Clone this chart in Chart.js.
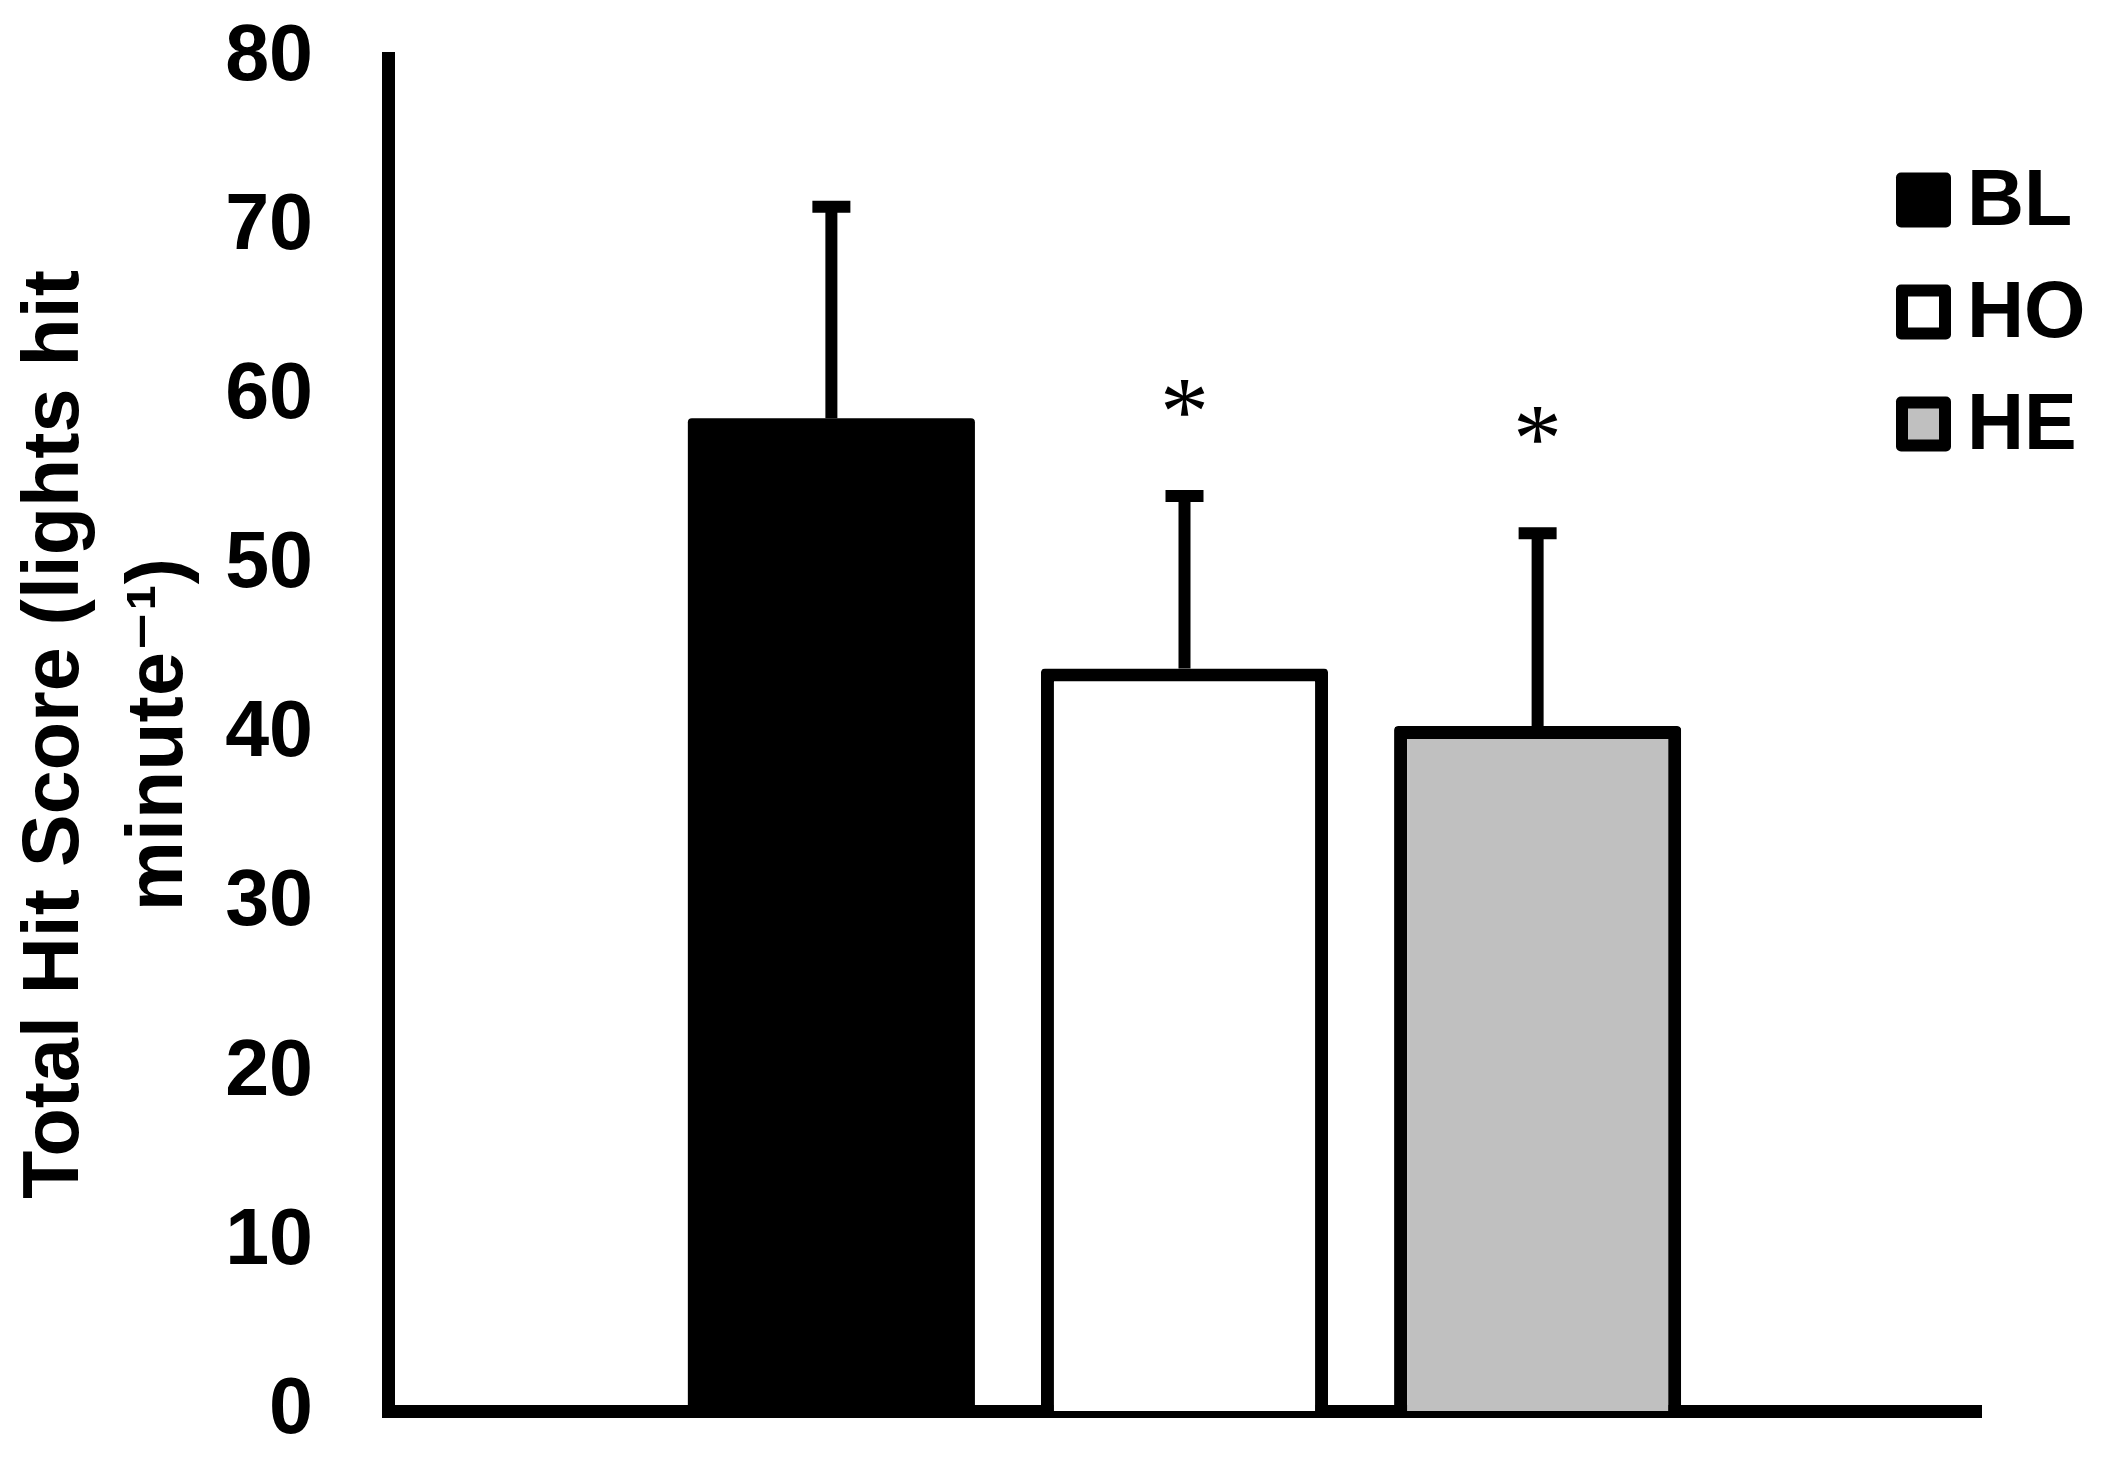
<!DOCTYPE html>
<html>
<head>
<meta charset="utf-8">
<script src="https://cdn.jsdelivr.net/npm/chart.js@4.4.0/dist/chart.umd.min.js"></script>
<style>
  html, body { margin: 0; padding: 0; background: #fff; }
  #wrap { width: 2115px; height: 1469px; }
</style>
</head>
<body>
<div id="wrap"><canvas id="chart" width="2115" height="1469"></canvas></div>
<script>
// data
const groups = ['BL', 'HO', 'HE'];
const means = [58.7, 43.9, 40.5];
const errors = [12.5, 10.2, 11.4];      // upper error bar length
const starAt = [null, 59.9, 58.3];       // where the * marks sit
const fills = ['#000000', '#ffffff', '#c0c0c0'];
const yMin = 0, yMax = 80, yStep = 10;
const yTitle = ['Total Hit Score (lights hit', 'minute\u207B\u00B9)'];

const FONT = "'Liberation Sans', Arial, 'DejaVu Sans', sans-serif";

// error bars (upward only, like the original) and the * marks
const errorBars = {
    id: 'errorBars',
    afterDatasetsDraw(chart) {
        const ctx = chart.ctx;
        const y = chart.scales.y;
        ctx.save();
        ctx.strokeStyle = '#000';
        ctx.lineWidth = 12;
        ctx.lineCap = 'butt';
        chart.data.datasets.forEach((ds, i) => {
            const bar = chart.getDatasetMeta(i).data[0];
            const top = y.getPixelForValue(ds.data[0] + errors[i]);
            ctx.beginPath();
            ctx.moveTo(bar.x, bar.y);
            ctx.lineTo(bar.x, top);
            ctx.moveTo(bar.x - 19, top);
            ctx.lineTo(bar.x + 19, top);
            ctx.stroke();

            if (starAt[i] !== null) {
                ctx.fillStyle = '#000';
                ctx.font = "98px 'Liberation Serif', 'Times New Roman', serif";
                ctx.textAlign = 'center';
                ctx.textBaseline = 'alphabetic';
                const m = ctx.measureText('*');
                const cy = y.getPixelForValue(starAt[i]);
                ctx.fillText('*', bar.x, cy + (m.actualBoundingBoxAscent - m.actualBoundingBoxDescent) / 2);
            }
        });
        ctx.restore();
    }
};

// legend drawn by hand so it can sit inside the plot on the right
const sideLegend = {
    id: 'sideLegend',
    afterDraw(chart) {
        const ctx = chart.ctx;
        const o = chart.options.plugins.sideLegend;
        ctx.save();
        chart.data.datasets.forEach((ds, i) => {
            const cy = o.top + i * o.gap;
            const x = o.left, s = o.box;
            ctx.fillStyle = '#000';
            ctx.beginPath();
            ctx.roundRect(x, cy - s / 2, s, s, 5);
            ctx.fill();
            ctx.fillStyle = ds.backgroundColor;
            ctx.fillRect(x + 12, cy - s / 2 + 12, s - 24, s - 24);
            ctx.fillStyle = '#000';
            ctx.font = 'bold 79px ' + FONT;
            ctx.textAlign = 'left';
            ctx.textBaseline = 'middle';
            ctx.fillText(ds.label, o.textX, cy + 3);
        });
        ctx.restore();
    }
};

const ctx = document.getElementById('chart').getContext('2d');

new Chart(ctx, {
    type: 'bar',
    data: {
        labels: [''],
        datasets: groups.map((g, i) => ({
            label: g,
            data: [means[i]],
            backgroundColor: fills[i],
            borderColor: '#000',
            // solid black bar needs no inner border (avoids a seam)
            borderWidth: fills[i] === '#000000' ? 0 : 13,
            borderRadius: 4,
            categoryPercentage: 0.665,
            barPercentage: 0.813
        }))
    },
    options: {
        responsive: false,
        animation: false,
        devicePixelRatio: 1,
        layout: { padding: { left: 0, right: 134, top: 58, bottom: 58 } },
        plugins: {
            legend: { display: false },
            tooltip: { enabled: false },
            sideLegend: { left: 1896, box: 55, top: 200, gap: 112, textX: 1967 }
        },
        scales: {
            x: {
                z: 1,
                grid: { display: false, drawTicks: false },
                border: { display: true, color: '#000', width: 13 },
                ticks: { display: false },
                afterFit: (scale) => { scale.height = 0; }
            },
            y: {
                min: yMin,
                max: yMax,
                grid: { display: false, drawTicks: false },
                border: { display: true, color: '#000', width: 13 },
                ticks: {
                    stepSize: yStep,
                    color: '#000',
                    padding: 75,
                    font: { family: FONT, size: 79, weight: 'bold' }
                },
                title: {
                    display: true,
                    text: yTitle,
                    color: '#000',
                    padding: { top: 4, bottom: 0 },
                    font: { family: FONT, size: 79, weight: 'bold', lineHeight: 1.32 }
                },
                afterFit: (scale) => {
                    scale.width = 388;
                    scale.paddingTop = 0;
                    scale.paddingBottom = 0;
                }
            }
        }
    },
    plugins: [errorBars, sideLegend]
});
</script>
</body>
</html>
